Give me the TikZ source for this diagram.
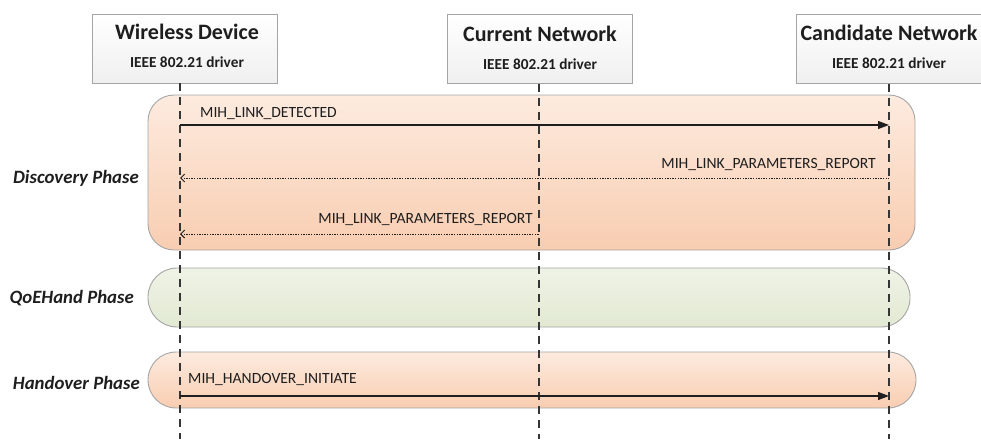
\documentclass[tikz,border=0pt]{standalone}
\usepackage{fontspec}
\setmainfont{Carlito}
\usetikzlibrary{arrows.meta}
\definecolor{peachT}{HTML}{FDEBDF}
\definecolor{peachB}{HTML}{F8CDB1}
\definecolor{greenT}{HTML}{EFF3E6}
\definecolor{greenB}{HTML}{E1E9D2}
\definecolor{bord}{HTML}{A5A5A5}
\definecolor{ink}{HTML}{1E1E1E}
\tikzset{
  phasebox/.style={draw=bord, line width=0.9pt, inner sep=0pt},
  headbox/.style={draw=bord, line width=0.9pt, top color=white, bottom color=black!6,
     minimum width=185pt, minimum height=69pt, inner sep=0pt},
  titletxt/.style={font=\fontsize{22}{26}\selectfont\bfseries, text=ink, inner sep=0pt, anchor=base},
  subtxt/.style={font=\fontsize{15.3}{18}\selectfont\bfseries, text=ink, inner sep=0pt, anchor=base},
  msgtxt/.style={font=\fontsize{15.6}{18}\selectfont, text=ink, inner sep=0pt},
  phasetxt/.style={font=\fontsize{18.8}{22}\selectfont\bfseries\itshape, text=ink, inner sep=0pt, anchor=base east},
  lifeline/.style={draw=ink!90, line width=1.1pt, dash pattern=on 8pt off 6pt},
  solidmsg/.style={draw=ink, line width=1.1pt, -{Triangle[length=11pt,width=8pt]}},
  dotmsg/.style={draw=ink, line width=1pt, dash pattern=on 1.3pt off 1.3pt, {Straight Barb[length=4pt,width=8pt,line width=0.9pt]}-}
}
\begin{document}
\begin{tikzpicture}[x=1pt,y=1pt]
\useasboundingbox (0,0) rectangle (981,-439);

% phase boxes
\node[phasebox, top color=peachT, bottom color=peachB, rounded corners=26pt,
  minimum width=767pt, minimum height=155pt] (disc) at (531.5,-172.5) {};
\node[phasebox, top color=greenT, bottom color=greenB, rounded corners=29pt,
  minimum width=762pt, minimum height=59pt] (qoe) at (529,-297.5) {};
\node[phasebox, top color=peachT, bottom color=peachB, rounded corners=28pt,
  minimum width=768pt, minimum height=56pt] (hand) at (532,-380) {};

% header boxes
\node[headbox] (wd) at (184.5,-48.5) {};
\node[headbox] (cn) at (539.5,-49) {};
\node[headbox] (can) at (889,-49) {};

\node[titletxt] (wdt) at (187,-39) {Wireless Device};
\node[subtxt] (wds) at (187,-67) {IEEE 802.21 driver};
\node[titletxt] (cnt) at (540,-41) {Current Network};
\node[subtxt] (cns) at (540,-69) {IEEE 802.21 driver};
\node[titletxt] (cant) at (889,-40) {Candidate Network};
\node[subtxt] (cans) at (889,-68) {IEEE 802.21 driver};

% lifelines
\coordinate (wdtop) at (180,-83);
\coordinate (wdbot) at (180,-439);
\coordinate (cntop) at (539,-83.5);
\coordinate (cnbot) at (539,-439);
\coordinate (cantop) at (889,-83.5);
\coordinate (canbot) at (889,-439);
\draw[lifeline] (wdtop) -- (wdbot);
\draw[lifeline] (cntop) -- (cnbot);
\draw[lifeline] (cantop) -- (canbot);

% messages
\coordinate (m1a) at (180,-125);
\coordinate (m1b) at (889,-125);
\draw[solidmsg] (m1a) -- (m1b);
\node[msgtxt, anchor=base west] (m1t) at (200,-117) {MIH\_LINK\_DETECTED};

\coordinate (m2a) at (180,-178);
\coordinate (m2b) at (889,-178);
\draw[dotmsg] (m2a) -- (m2b);
\node[msgtxt, anchor=base east] (m2t) at (876,-168) {MIH\_LINK\_PARAMETERS\_REPORT};

\coordinate (m3a) at (180,-234);
\coordinate (m3b) at (539,-234);
\draw[dotmsg] (m3a) -- (m3b);
\node[msgtxt, anchor=base east] (m3t) at (533,-223) {MIH\_LINK\_PARAMETERS\_REPORT};

\coordinate (m4a) at (180,-396);
\coordinate (m4b) at (889,-396);
\draw[solidmsg] (m4a) -- (m4b);
\node[msgtxt, anchor=base west] (m4t) at (188,-383) {MIH\_HANDOVER\_INITIATE};

% phase labels
\node[phasetxt] (p1) at (139,-183) {Discovery Phase};
\node[phasetxt] (p2) at (134,-303) {QoEHand Phase};
\node[phasetxt] (p3) at (140,-389) {Handover Phase};
\end{tikzpicture}
\end{document}
